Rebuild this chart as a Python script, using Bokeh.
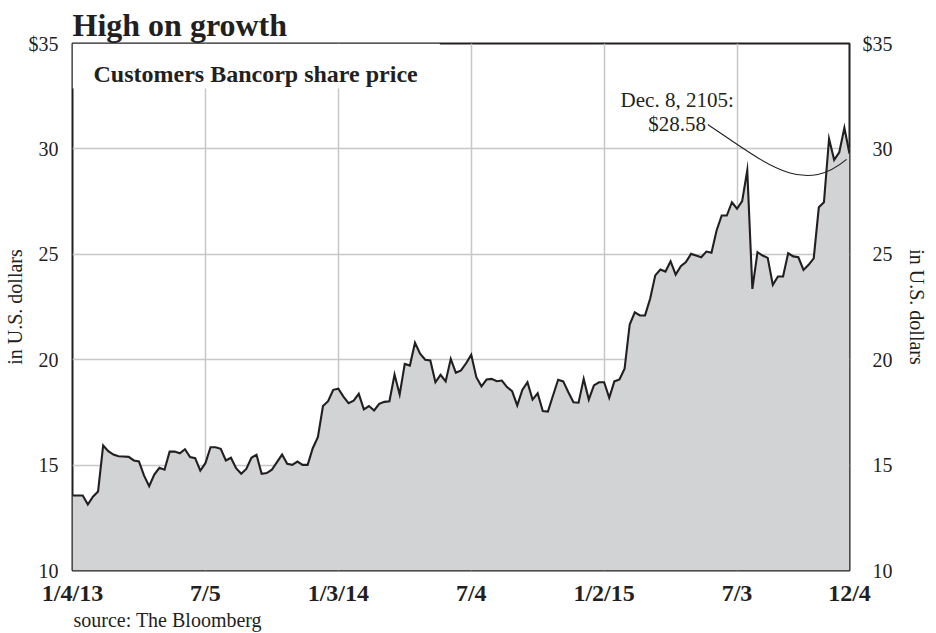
import pandas as pd
from bokeh.plotting import figure
from bokeh.models import (Range1d, LinearAxis, FixedTicker, BoxAnnotation, Label,
                          ColumnDataSource, Title)
from bokeh.embed import file_html
from bokeh.resources import INLINE

# ---------------- data ----------------
start_date = "2013-01-04"
prices = [13.56, 13.56, 13.56, 13.13, 13.50, 13.75, 15.93, 15.66, 15.50, 15.42,
          15.41, 15.39, 15.22, 15.17, 14.50, 14.00, 14.55, 14.87, 14.78, 15.64,
          15.64, 15.56, 15.75, 15.38, 15.33, 14.74, 15.09, 15.85, 15.85, 15.77,
          15.22, 15.35, 14.85, 14.59, 14.82, 15.35, 15.49, 14.59, 14.62, 14.78,
          15.14, 15.50, 15.06, 15.01, 15.17, 15.01, 15.01, 15.80, 16.32, 17.80,
          18.03, 18.57, 18.62, 18.25, 17.94, 18.06, 18.38, 17.64, 17.80, 17.59,
          17.91, 18.00, 18.03, 19.30, 18.35, 19.80, 19.72, 20.80, 20.28, 20.00,
          19.96, 18.93, 19.28, 18.97, 20.04, 19.38, 19.49, 19.83, 20.23, 19.17,
          18.74, 19.06, 19.09, 18.98, 19.01, 18.70, 18.51, 17.83, 18.57, 18.93,
          18.11, 18.41, 17.56, 17.54, 18.30, 19.05, 18.97, 18.46, 17.98, 17.96,
          19.09, 18.11, 18.78, 18.93, 18.93, 18.19, 18.97, 19.06, 19.57, 21.67,
          22.25, 22.10, 22.10, 22.89, 24.00, 24.28, 24.18, 24.67, 24.04, 24.44,
          24.63, 25.02, 24.94, 24.86, 25.13, 25.07, 26.13, 26.84, 26.84, 27.47,
          27.16, 27.52, 28.98, 23.36, 25.10, 24.94, 24.83, 23.55, 23.95, 23.95,
          25.05, 24.90, 24.86, 24.26, 24.50, 24.81, 27.23, 27.47, 30.48, 29.48,
          29.84, 31.00, 29.77]

tick_dates = ["2013-01-04", "2013-07-05", "2014-01-03", "2014-07-04",
              "2015-01-02", "2015-07-03", "2015-12-04"]
tick_labels = ["1/4/13", "7/5", "1/3/14", "7/4", "1/2/15", "7/3", "12/4"]
y_ticks = [10, 15, 20, 25, 30, 35]
y_tick_labels = ["10", "15", "20", "25", "30", "$35"]

title_text = "High on growth"
subtitle_text = "Customers Bancorp share price"
callout_lines = ["Dec. 8, 2105:", "$28.58"]
source_text = "source: The Bloomberg"
axis_title = "in U.S. dollars"

# ---------------- styling ----------------
FONT = "Liberation Serif"
INK = "#231f20"
FILL = "#d1d3d4"
GRID = "#c6c7c9"
FIGSP = "\u2007"  # figure space: right-aligns the right-hand tick labels

dates = pd.date_range(start_date, periods=len(prices), freq="7D")
src = ColumnDataSource(dict(date=dates, price=prices))
tick_ms = [int(pd.Timestamp(d).value // 10**6) for d in tick_dates]

p = figure(width=930, height=633, x_axis_type="datetime",
           x_range=Range1d(dates[0], dates[-1]), y_range=Range1d(10, 35),
           output_backend="svg", toolbar_location=None,
           min_border_left=72, min_border_right=79, min_border_top=43,
           min_border_bottom=63)

p.outline_line_color = INK
p.outline_line_width = 2
p.outline_line_alpha = 1.0
p.background_fill_color = "white"
p.border_fill_color = "white"

# title
p.title.text = title_text
p.title.align = "left"
p.title.text_font = FONT
p.title.text_font_size = "32px"
p.title.text_font_style = "bold"
p.title.text_color = INK
p.title.standoff = 1
p.title.offset = 0

# grids
p.xgrid.ticker = FixedTicker(ticks=tick_ms)
p.ygrid.ticker = FixedTicker(ticks=y_ticks[1:-1])
for g in (p.xgrid, p.ygrid):
    g.grid_line_color = GRID
    g.grid_line_width = 1.5

# white box behind subtitle (covers the grid lines)
box_right = dates[0] + pd.Timedelta(days=503)
p.add_layout(BoxAnnotation(left=dates[0], right=box_right, top=35, bottom=32.87,
                           fill_color="white", fill_alpha=1.0, line_color=None,
                           level="underlay"))

# area + line
p.varea(x="date", y1=10, y2="price", source=src, fill_color=FILL, fill_alpha=1.0)
p.line(x="date", y="price", source=src, line_color=INK, line_width=2.1,
       line_join="miter")

# x axis
xa = p.xaxis[0]
xa.ticker = FixedTicker(ticks=tick_ms)
xa.major_label_overrides = dict(zip(tick_ms, tick_labels))
xa.axis_line_color = None
xa.major_tick_line_color = None
xa.minor_tick_line_color = None
xa.major_label_text_font = FONT
xa.major_label_text_font_size = "24px"
xa.major_label_text_font_style = "bold"
xa.major_label_text_color = INK
xa.major_label_standoff = 3

# left y axis
ya = p.yaxis[0]
ya.ticker = FixedTicker(ticks=y_ticks)
ya.major_label_overrides = dict(zip(y_ticks, y_tick_labels))
ya.axis_line_color = None
ya.major_tick_line_color = None
ya.minor_tick_line_color = None
ya.major_label_text_font = FONT
ya.major_label_text_font_size = "20px"
ya.major_label_text_color = INK
ya.major_label_standoff = 8
ya.axis_label = axis_title
ya.axis_label_text_font = FONT
ya.axis_label_text_font_size = "20px"
ya.axis_label_text_font_style = "normal"
ya.axis_label_text_color = INK
ya.axis_label_standoff = 0

# right y axis
right_labels = {v: (lab if len(lab) == 3 else FIGSP + lab)
                for v, lab in zip(y_ticks, y_tick_labels)}
ra = LinearAxis(ticker=FixedTicker(ticks=y_ticks), major_label_overrides=right_labels)
ra.axis_line_color = None
ra.major_tick_line_color = None
ra.minor_tick_line_color = None
ra.major_label_text_font = FONT
ra.major_label_text_font_size = "20px"
ra.major_label_text_color = INK
ra.major_label_standoff = 7
ra.axis_label = axis_title
ra.axis_label_text_font = FONT
ra.axis_label_text_font_size = "20px"
ra.axis_label_text_font_style = "normal"
ra.axis_label_text_color = INK
ra.axis_label_standoff = 10
p.add_layout(ra, "right")

# source line under the axis
p.add_layout(Title(text=source_text, align="left", text_font=FONT,
                   text_font_size="20px", text_font_style="normal",
                   text_color=INK, standoff=-4, offset=1), "below")

# subtitle
p.add_layout(Label(x=dates[0], y=35, x_offset=21, y_offset=-30, text=subtitle_text,
                   text_font=FONT, text_font_size="24px", text_font_style="bold",
                   text_color=INK, text_baseline="alphabetic", text_align="left"))

# callout
end = dates[-1]
callout_x = end - pd.Timedelta(days=236)
p.add_layout(Label(x=callout_x, y=32.34, text=callout_lines[0], text_font=FONT,
                   text_font_size="21px", text_color=INK, text_align="center",
                   text_baseline="alphabetic"))
p.add_layout(Label(x=callout_x, y=31.16, text=callout_lines[1], text_font=FONT,
                   text_font_size="21px", text_color=INK, text_align="center",
                   text_baseline="alphabetic"))
curve = ColumnDataSource(dict(
    x0=[end - pd.Timedelta(days=194)], y0=[31.16],
    cx0=[end - pd.Timedelta(days=111)], cy0=[29.21],
    cx1=[end - pd.Timedelta(days=63)], cy1=[27.79],
    x1=[end - pd.Timedelta(days=4)], y1=[29.50]))
p.bezier(x0="x0", y0="y0", x1="x1", y1="y1", cx0="cx0", cy0="cy0",
         cx1="cx1", cy1="cy1", source=curve, line_color=INK, line_width=1.1)

open("out.html", "w").write(file_html(p, INLINE))
